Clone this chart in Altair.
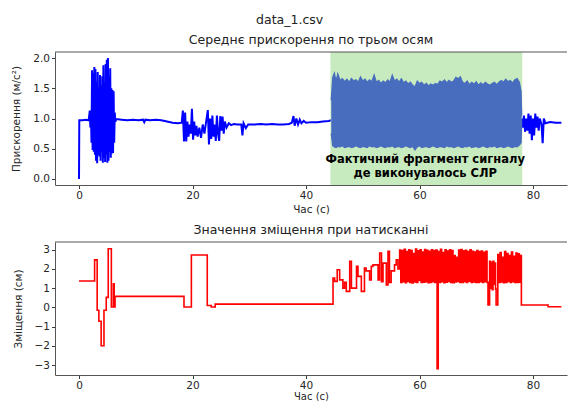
import altair as alt
import pandas as pd

# ---------------- top panel: mean acceleration over three axes ----------------
acc_t = [0, 0.05, 0.6, 1.2, 1.7, 1.9, 2.0, 2.1, 2.2, 2.3, 2.4, 2.5, 2.6, 2.7, 2.8, 2.9, 3.0, 3.1, 3.2, 3.3,
         3.4, 3.5, 3.6, 3.7, 3.8, 3.9, 4.0, 4.1, 4.2, 4.3, 4.4, 4.5, 4.6, 4.7, 4.8, 4.9, 5.0, 5.1, 5.2, 5.3,
         5.4, 5.5, 5.6, 5.7, 5.8, 5.9, 6.0, 6.1, 6.2, 6.3, 6.4, 6.6, 7.5, 8.5, 9.5, 10.5, 11.3, 11.5, 11.7,
         12.5, 13.5, 14.5, 15.5, 16.5, 17.5, 18.1, 18.3, 18.5, 18.7, 18.9, 19.1, 19.3, 19.5, 19.7, 19.9,
         20.1, 20.3, 20.5, 20.7, 20.9, 21.2, 21.5, 21.8, 22.1, 22.4, 22.7, 22.9, 23.1, 23.3, 23.5, 23.7,
         23.9, 24.1, 24.3, 24.5, 24.7, 24.9, 25.1, 25.3, 25.5, 25.7, 26.0, 26.4, 26.8, 27.3, 27.9, 28.6,
         28.8, 29.0, 29.4, 29.8, 31, 32, 33, 34, 35, 36, 37, 37.5, 37.8, 38.0, 38.3, 38.6, 38.9, 39.2,
         39.6, 40, 41, 42, 43, 44, 44.4]
acc_v = [0.0, 0.97, 0.97, 0.98, 0.97, 1.13, 0.85, 1.1, 0.6, 1.8, 0.48, 1.75, 0.45, 1.85, 0.4, 1.82, 0.3, 1.6, 0.26, 1.77,
         0.4, 1.5, 0.37, 1.72, 0.3, 1.55, 0.45, 1.7, 0.27, 1.88, 0.35, 1.6, 0.28, 1.9, 0.4, 1.97, 0.27, 2.0, 0.3, 1.7,
         0.45, 1.83, 0.35, 1.5, 0.42, 1.47, 0.43, 1.45, 0.6, 1.1, 0.95, 0.99, 0.98, 0.97, 0.98, 0.97, 0.98, 0.94, 0.98,
         0.97, 0.98, 0.97, 0.95, 0.93, 0.92, 0.93, 1.13, 0.62, 1.1, 0.62, 0.95, 0.7, 0.9, 0.75, 1.16,
         0.65, 0.95, 0.72, 0.88, 0.7, 0.85, 0.68, 0.9, 0.75, 0.95, 1.14, 0.57, 1.0, 0.66, 1.05, 0.7,
         0.9, 0.63, 1.05, 0.75, 0.63, 1.04, 0.8, 1.03, 0.75, 0.95, 0.85, 0.92, 0.89, 0.91, 0.9, 0.9,
         0.72, 0.92, 0.84, 0.9, 0.9, 0.91, 0.9, 0.91, 0.9, 0.9, 0.91, 0.93, 1.04, 0.88, 1.0, 0.9, 0.98, 0.92,
         0.96, 0.93, 0.94, 0.94, 0.95, 0.96, 0.97]
acc_t2 = [78.0, 78.2, 78.4, 78.6, 78.8, 79.0, 79.2, 79.4, 79.6, 79.8, 80.0, 80.2, 80.4, 80.6, 80.8, 81.0,
          81.2, 81.5, 81.7, 81.9, 82.2, 83, 84, 85]
acc_v2 = [1.0, 0.85, 1.05, 0.78, 1.0, 0.8, 1.08, 0.75, 1.05, 0.64, 1.0, 0.72, 1.08, 0.85, 1.03, 0.8,
          1.0, 0.9, 0.59, 1.0, 0.92, 0.94, 0.93, 0.93]

# dense CPR fragment: envelope of the oscillation
band_t = [44.45, 44.7, 45.0, 45.3, 45.6, 46.0, 46.4, 46.8, 47.2, 47.6, 48.0, 48.4, 48.8, 49.2, 49.6, 50.0,
          50.4, 50.8, 51.2, 51.6, 52.0, 52.4, 52.8, 53.2, 53.6, 54.0, 54.4, 54.8, 55.2, 55.6, 56.0, 56.4,
          56.8, 57.2, 57.6, 58.0, 58.4, 58.8, 59.2, 59.6, 60.0, 60.4, 60.8, 61.2, 61.6, 62.0, 62.4, 62.8,
          63.2, 63.6, 64.0, 64.4, 64.8, 65.2, 65.6, 66.0, 66.4, 66.8, 67.2, 67.6, 68.0, 68.4, 68.8, 69.2,
          69.6, 70.0, 70.4, 70.8, 71.2, 71.6, 72.0, 72.4, 72.8, 73.2, 73.6, 74.0, 74.4, 74.8, 75.2, 75.6,
          76.0, 76.4, 76.8, 77.2, 77.6, 77.9, 78.0]
band_top = [1.30, 1.68, 1.75, 1.62, 1.74, 1.63, 1.66, 1.61, 1.65, 1.60, 1.66, 1.62, 1.64, 1.60, 1.69, 1.62,
            1.65, 1.60, 1.64, 1.61, 1.72, 1.60, 1.63, 1.58, 1.62, 1.59, 1.64, 1.60, 1.72, 1.62, 1.65, 1.60,
            1.66, 1.59, 1.62, 1.57, 1.60, 1.55, 1.52, 1.62, 1.58, 1.60, 1.55, 1.58, 1.54, 1.57, 1.55, 1.58,
            1.56, 1.62, 1.60, 1.64, 1.59, 1.63, 1.60, 1.62, 1.68, 1.66, 1.69, 1.60, 1.58, 1.62, 1.56, 1.60,
            1.57, 1.61, 1.55, 1.59, 1.56, 1.60, 1.57, 1.55, 1.58, 1.60, 1.56, 1.60, 1.63, 1.60, 1.65, 1.61,
            1.63, 1.59, 1.64, 1.66, 1.60, 1.45, 1.05]
band_bot = [0.75, 0.55, 0.53, 0.52, 0.54, 0.53, 0.55, 0.52, 0.53, 0.54, 0.52, 0.53, 0.55, 0.53, 0.52, 0.54,
            0.53, 0.52, 0.55, 0.53, 0.54, 0.52, 0.53, 0.55, 0.53, 0.52, 0.54, 0.53, 0.55, 0.52, 0.53, 0.54,
            0.52, 0.53, 0.55, 0.53, 0.52, 0.54, 0.48, 0.53, 0.55, 0.52, 0.53, 0.54, 0.52, 0.53, 0.55, 0.53,
            0.52, 0.54, 0.53, 0.52, 0.55, 0.53, 0.54, 0.52, 0.53, 0.55, 0.53, 0.52, 0.54, 0.53, 0.55, 0.52,
            0.53, 0.54, 0.52, 0.53, 0.55, 0.53, 0.52, 0.54, 0.53, 0.55, 0.52, 0.53, 0.54, 0.52, 0.53, 0.55,
            0.53, 0.52, 0.54, 0.53, 0.56, 0.60, 0.95]

span = [44.3, 78.1]
note = "Фактичний фрагмент сигналу\nде виконувалось СЛР"
note_pos = [61.0, 0.31]

# ---------------- bottom panel: displacement on pressing ----------------
disp_t = [0, 2.75, 3.2, 3.5, 3.9, 4.4, 4.8, 5.15, 5.7, 6.05, 6.2, 6.35, 18.5, 19.8, 22.6, 23.3, 24.0,
          44.76, 45.05, 45.5, 45.93, 46.5, 46.8, 47.1, 47.7, 48.0, 48.9, 49.16, 49.75, 50.3, 50.6, 51.2,
          51.5, 51.8, 52.7, 52.98, 53.3, 53.57, 54.15, 54.45, 54.7, 55.0, 55.6, 55.9, 56.2]
disp_v = [1.37, 2.47, -0.15, -0.72, -2.0, -0.15, 0.52, 3.05, 0.02, 1.22, 0.02, 0.57, 0.02, 2.72, 0.1, 0.02, 0.17,
          1.52, 1.35, 1.96, 1.43, 1.0, 1.3, 0.83, 2.39, 1.0, 2.13, 1.61, 0.83, 2.04, 1.9, 1.43,
          2.13, 2.21, 1.43, 2.83, 1.33, 2.3, 1.17, 2.91, 1.3, 1.9, 2.21, 2.47, 2.0]
# dense block 1, sampled every 0.2 s from 56.5 s
dense1_start, dense_step = 56.5, 0.2
dense1_v = [2.98, 1.30, 2.95, 1.33, 3.02, 1.28, 2.90, 1.35, 3.00, 1.30, 2.96, 1.27, 2.80, 1.32, 3.03, 1.30,
            2.94, 1.40, 2.99, 1.29, 2.88, 1.31, 3.01, 1.34, 2.97, 1.28, 2.92, 1.30, 3.00, 1.33, 2.95, 1.29,
            2.98, -3.19, 2.90, 1.30, 3.02, 1.33, 2.85, 1.28, 2.99, 1.31, 2.93, 1.35, 3.00, 1.30, 2.96, 1.28,
            2.70, 1.32, 2.60, 1.35, 2.98, 1.30, 3.01, 1.29, 2.94, 1.33, 2.97, 1.30, 2.90, 1.36, 2.99, 1.30,
            2.92, 1.32, 2.88, 1.29, 2.95, 1.30, 2.90, 1.34, 2.93, 1.30, 2.87, 1.33, 2.91, 1.30]
disp_t3 = [72.07, 72.35, 72.5, 72.65, 72.8, 72.95, 73.1, 73.25, 73.4, 73.5]
disp_v3 = [0.13, 2.4, 1.0, 2.35, 0.92, 2.4, 1.2, 2.3, 0.95, 0.13]
dense2_start = 73.8
dense2_v = [2.75, 1.30, 2.85, 1.32, 2.60, 1.28, 2.90, 1.30, 2.80, 1.35, 2.70, 1.30, 2.88, 1.33, 2.65, 1.30,
            2.82, 1.29, 2.78, 1.31, 2.70]
disp_t4 = [77.95, 82.65, 85.0]
disp_v4 = [0.12, 0.03, 0.03]

x_ticks = [0, 20, 40, 60, 80]
acc_ticks = [0, 0.5, 1.0, 1.5, 2.0]
disp_ticks = [-3, -2, -1, 0, 1, 2, 3]

# ---------------- build tables ----------------
acc = pd.DataFrame({"t": acc_t + acc_t2, "v": acc_v + acc_v2,
                    "seg": [0] * len(acc_t) + [1] * len(acc_t2)})
band = pd.DataFrame({"t": band_t, "top": band_top, "bot": band_bot})
span_df = pd.DataFrame({"a": [span[0]], "b": [span[1]]})
note_df = pd.DataFrame({"t": [note_pos[0]], "v": [note_pos[1]], "txt": [note]})

d_t = (disp_t + [dense1_start + dense_step * i for i in range(len(dense1_v))] + disp_t3
       + [dense2_start + dense_step * i for i in range(len(dense2_v))] + disp_t4)
d_v = disp_v + dense1_v + disp_v3 + dense2_v + disp_v4
disp = pd.DataFrame({"t": d_t, "v": d_v})

FONT = "DejaVu Sans"
W, H = 512, 133
FRAME = "#555"
xscale = alt.Scale(domain=[-4.23, 85.99], nice=False, zero=False)
xaxis_top = alt.Axis(values=x_ticks, title="Час (с)", format="d", titlePadding=3)
xaxis_bot = alt.Axis(values=x_ticks, title="Час (с)", format="d", titlePadding=0, titleFontSize=10)

top_y = alt.Scale(domain=[-0.1, 2.1], nice=False, zero=False)
top_axis = alt.Axis(values=acc_ticks, format=".1f", title="Прискорення (м/с²)", titlePadding=11)


def X(field, axis=xaxis_top):
    return alt.X(field, type="quantitative", scale=xscale, axis=axis)


def YT(field):
    return alt.Y(field, type="quantitative", scale=top_y, axis=top_axis)


line_top = alt.Chart(acc).mark_line(color="#0000ff", strokeWidth=2, clip=True).encode(
    x=X("t"), y=YT("v"), detail="seg:N")
band_area = alt.Chart(band).mark_area(color="#0000ff", opacity=1, clip=True).encode(
    x=X("t"), y=YT("bot"), y2="top:Q")
band_edge = alt.Chart(band).mark_line(color="#0000ff", strokeWidth=1.2, clip=True).encode(x=X("t"), y=YT("top"))
band_edge2 = alt.Chart(band).mark_line(color="#0000ff", strokeWidth=1.2, clip=True).encode(x=X("t"), y=YT("bot"))
span_rect = alt.Chart(span_df).mark_rect(color="#8fd87e", opacity=0.5).encode(x=X("a"), x2="b:Q")
note_text = alt.Chart(note_df).mark_text(font=FONT, fontSize=11.5, fontWeight="bold", color="black",
                                         lineBreak="\n", lineHeight=14, align="center",
                                         baseline="middle").encode(x=X("t"), y=YT("v"), text="txt:N")
top_frame = alt.Chart(span_df).mark_rule(color=FRAME, strokeWidth=1).encode(y=alt.value(0))

top = alt.layer(line_top, band_area, band_edge, band_edge2, span_rect, note_text, top_frame).properties(
    width=W, height=H, title=alt.TitleParams("Середнє прискорення по трьом осям", offset=5))

bot_y = alt.Scale(domain=[-3.52, 3.4], nice=False, zero=False)
bot_axis = alt.Axis(values=disp_ticks, format="d", title="Зміщення (см)",
                    labelExpr="replace(datum.label, '-', '−')", titlePadding=11)
line_bot = alt.Chart(disp).mark_line(color="#ff0000", strokeWidth=1.6, interpolate="step-after",
                                     clip=True).encode(
    x=X("t", xaxis_bot),
    y=alt.Y("v:Q", scale=bot_y, axis=bot_axis),
)
bot_frame = alt.Chart(span_df).mark_rule(color=FRAME, strokeWidth=1).encode(y=alt.value(0))
bottom = alt.layer(line_bot, bot_frame).properties(
    width=W, height=H, title=alt.TitleParams("Значення зміщення при натисканні", offset=5))

chart = alt.vconcat(top, bottom, spacing=9).properties(
    title=alt.TitleParams("data_1.csv", fontSize=12.5, font=FONT, fontWeight="normal", color="#222",
                          anchor="middle", offset=8),
    padding={"left": 3, "top": 5, "right": 0, "bottom": 0},
).configure_view(stroke=None).configure_axis(
    grid=False, labelFont=FONT, labelFontSize=10.5, labelColor="#262626", tickColor="#262626",
    tickSize=3.5, tickWidth=0.9, domainColor=FRAME, domainWidth=1, titleFont=FONT, titleFontSize=10.5,
    titleFontWeight="normal", titleColor="#262626", labelPadding=2,
).configure_title(font=FONT, fontSize=12.5, fontWeight="normal", color="#222")

chart.save("out.html", embed_options={"renderer": "svg", "actions": False})
